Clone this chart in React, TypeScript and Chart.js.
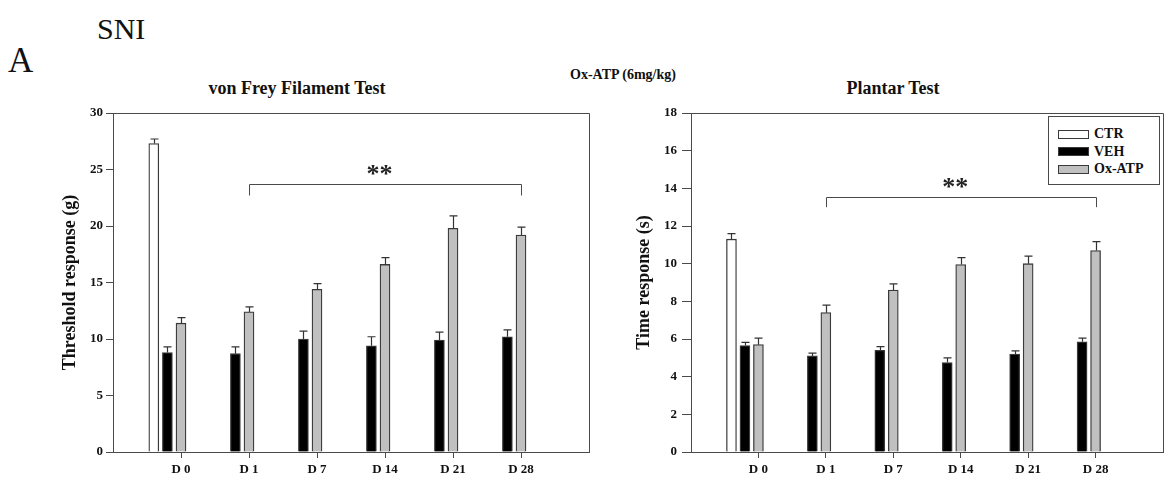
import React, { useEffect, useRef } from "react";
import { Chart, registerables } from "chart.js";
Chart.register(...registerables);

const FONT = "'Liberation Serif', 'Times New Roman', serif";

// ---------- data ----------
const categories = ["D 0", "D 1", "D 7", "D 14", "D 21", "D 28"];
const seriesNames = ["CTR", "VEH", "Ox-ATP"];

const vonFreyCTR = [27.3, null, null, null, null, null];
const vonFreyCTRErr = [0.4, null, null, null, null, null];
const vonFreyVEH = [8.8, 8.7, 10.0, 9.4, 9.9, 10.2];
const vonFreyVEHErr = [0.5, 0.6, 0.7, 0.8, 0.7, 0.6];
const vonFreyOx = [11.4, 12.4, 14.4, 16.6, 19.8, 19.2];
const vonFreyOxErr = [0.5, 0.45, 0.5, 0.6, 1.1, 0.7];

const plantarCTR = [11.3, null, null, null, null, null];
const plantarCTRErr = [0.3, null, null, null, null, null];
const plantarVEH = [5.65, 5.1, 5.4, 4.75, 5.2, 5.85];
const plantarVEHErr = [0.17, 0.15, 0.2, 0.25, 0.17, 0.2];
const plantarOx = [5.7, 7.4, 8.6, 9.95, 10.0, 10.7];
const plantarOxErr = [0.35, 0.4, 0.33, 0.37, 0.4, 0.47];

const vonFreyYTicks = { max: 30, step: 5 };
const plantarYTicks = { max: 18, step: 2 };

// significance brackets (data units)
const vonFreyBracket = { from: 1, to: 5, y: 23.7, drop: 1.0, text: "**", textX: 2.92, textY: 23.9 };
const plantarBracket = { from: 1, to: 5, y: 13.54, drop: 0.54, text: "**", textX: 2.92, textY: 13.63 };

// ---------- styles ----------
const seriesFill = ["#ffffff", "#000000", "#c0c0c0"];
const seriesOffset = [-0.4, -0.2, 0];
const LINE = "#4a4a4a";

const errorBarPlugin = {
  id: "errorBars",
  afterDatasetsDraw(chart: any) {
    const ctx = chart.ctx;
    const ys = chart.scales.y;
    ctx.save();
    ctx.strokeStyle = "#333";
    ctx.lineWidth = 1.2;
    chart.data.datasets.forEach((ds: any, i: number) => {
      const meta = chart.getDatasetMeta(i);
      meta.data.forEach((el: any, j: number) => {
        const p = ds.data[j];
        if (!p || p.err == null) return;
        const top = ys.getPixelForValue(p.y + p.err);
        const x = Math.round(el.x) + 0.5;
        ctx.beginPath();
        ctx.moveTo(x, el.y);
        ctx.lineTo(x, top);
        ctx.moveTo(x - 4, top);
        ctx.lineTo(x + 4, top);
        ctx.stroke();
      });
    });
    ctx.restore();
  },
};

const framePlugin = {
  id: "frame",
  afterDraw(chart: any) {
    const { ctx, chartArea: a } = chart;
    ctx.save();
    ctx.strokeStyle = LINE;
    ctx.lineWidth = 1;
    ctx.beginPath();
    ctx.moveTo(a.left, Math.round(a.top) + 0.5);
    ctx.lineTo(Math.round(a.right) + 0.5, Math.round(a.top) + 0.5);
    ctx.lineTo(Math.round(a.right) + 0.5, a.bottom);
    ctx.stroke();
    ctx.restore();
  },
};

const bracketPlugin = {
  id: "bracket",
  afterDraw(chart: any, _args: any, opts: any) {
    if (!opts || opts.from == null) return;
    const { ctx } = chart;
    const xs = chart.scales.x;
    const ys = chart.scales.y;
    const x1 = Math.round(xs.getPixelForValue(opts.from)) + 0.5;
    const x2 = Math.round(xs.getPixelForValue(opts.to)) + 0.5;
    const y = Math.round(ys.getPixelForValue(opts.y)) + 0.5;
    const yd = ys.getPixelForValue(opts.y - opts.drop);
    ctx.save();
    ctx.strokeStyle = LINE;
    ctx.lineWidth = 1;
    ctx.beginPath();
    ctx.moveTo(x1, yd);
    ctx.lineTo(x1, y);
    ctx.lineTo(x2, y);
    ctx.lineTo(x2, yd);
    ctx.stroke();
    ctx.fillStyle = "#222";
    ctx.font = `bold 26px ${FONT}`;
    ctx.textAlign = "center";
    ctx.textBaseline = "alphabetic";
    ctx.fillText(opts.text, xs.getPixelForValue(opts.textX), ys.getPixelForValue(opts.textY));
    ctx.restore();
  },
};

type PanelProps = {
  left: number;
  width: number;
  ctr: (number | null)[];
  ctrErr: (number | null)[];
  veh: number[];
  vehErr: number[];
  ox: number[];
  oxErr: number[];
  yMax: number;
  yStep: number;
  yTitle: string;
  yAxisWidth: number;
  yTitlePad: number;
  yTickLen: number;
  yTickPad: number;
  padRight: number;
  bracket: any;
};

function Panel(props: PanelProps) {
  const ref = useRef<HTMLCanvasElement | null>(null);
  useEffect(() => {
    if (!ref.current) return;
    const values = [props.ctr, props.veh, props.ox];
    const errs = [props.ctrErr, props.vehErr, props.oxErr];
    const datasets = values.map((vals, s) => ({
      label: seriesNames[s],
      data: vals
        .map((v, i) => (v == null ? null : { x: i + seriesOffset[s], y: v, err: errs[s][i] }))
        .filter((p) => p !== null),
      backgroundColor: seriesFill[s],
      borderColor: "#3a3a3a",
      borderWidth: 1.3,
      barThickness: 10,
      grouped: false,
    }));
    const tickFont = { family: FONT, size: 13, weight: "bold" as const };
    const chart = new Chart(ref.current, {
      type: "bar",
      data: { datasets: datasets as any },
      plugins: [errorBarPlugin, framePlugin, bracketPlugin],
      options: {
        responsive: false,
        animation: false,
        events: [],
        layout: { padding: { top: 113, right: props.padRight, bottom: 0, left: 0 } },
        plugins: {
          legend: { display: false },
          tooltip: { enabled: false },
          bracket: props.bracket,
        } as any,
        scales: {
          x: {
            type: "linear",
            min: -1,
            max: 6,
            offset: false,
            afterBuildTicks: (sc: any) => {
              sc.ticks = categories.map((_, i) => ({ value: i }));
            },
            afterFit: (sc: any) => {
              sc.height = 27;
            },
            ticks: {
              callback: (v: any) => categories[Math.round(Number(v))] ?? "",
              autoSkip: false,
              maxRotation: 0,
              padding: 4,
              color: "#111",
              font: tickFont,
            },
            grid: { offset: false, drawOnChartArea: false, drawTicks: true, tickLength: 6, tickColor: LINE, color: LINE },
            border: { display: true, color: LINE, width: 1 },
          },
          y: {
            type: "linear",
            min: 0,
            max: props.yMax,
            afterFit: (sc: any) => {
              sc.width = props.yAxisWidth;
            },
            ticks: { stepSize: props.yStep, padding: props.yTickPad, color: "#111", font: tickFont },
            grid: { offset: false, drawOnChartArea: false, drawTicks: true, tickLength: props.yTickLen, tickColor: LINE, color: LINE },
            border: { display: true, color: LINE, width: 1 },
            title: {
              display: true,
              text: props.yTitle,
              color: "#111",
              font: { family: FONT, size: 18, weight: "bold" },
              padding: { top: props.yTitlePad, bottom: 0 },
            },
          },
        } as any,
      },
    });
    return () => chart.destroy();
  }, []);
  return (
    <canvas
      ref={ref}
      width={props.width}
      height={479}
      style={{ position: "absolute", left: props.left, top: 0, width: props.width, height: 479 }}
    />
  );
}

function Text(p: { text: string; left: number; top: number; size: number; bold?: boolean; width?: number; center?: boolean }) {
  return (
    <div
      style={{
        position: "absolute",
        left: p.left,
        top: p.top,
        width: p.width,
        textAlign: p.center ? "center" : "left",
        fontFamily: FONT,
        fontSize: p.size,
        lineHeight: `${p.size}px`,
        fontWeight: p.bold ? "bold" : "normal",
        color: "#111",
        whiteSpace: "nowrap",
      }}
    >
      {p.text}
    </div>
  );
}

export default function App() {
  return (
    <div style={{ position: "absolute", left: 0, top: 0, width: 1170, height: 479, background: "#fff", overflow: "hidden" }}>
      <Text text="SNI" left={97} top={14} size={30} />
      <Text text="A" left={8} top={43} size={35} />
      <Text text="von Frey Filament Test" left={147} width={300} top={79} size={18} bold center />
      <Text text="Ox-ATP (6mg/kg)" left={523} width={200} top={68} size={14} bold center />
      <Text text="Plantar Test" left={743} width={300} top={79} size={18} bold center />
      <Panel
        left={0}
        width={600}
        ctr={vonFreyCTR}
        ctrErr={vonFreyCTRErr}
        veh={vonFreyVEH}
        vehErr={vonFreyVEHErr}
        ox={vonFreyOx}
        oxErr={vonFreyOxErr}
        yMax={vonFreyYTicks.max}
        yStep={vonFreyYTicks.step}
        yTitle="Threshold response (g)"
        yAxisWidth={113}
        yTitlePad={60}
        yTickLen={7}
        yTickPad={3}
        padRight={11}
        bracket={vonFreyBracket}
      />
      <Panel
        left={600}
        width={570}
        ctr={plantarCTR}
        ctrErr={plantarCTRErr}
        veh={plantarVEH}
        vehErr={plantarVEHErr}
        ox={plantarOx}
        oxErr={plantarOxErr}
        yMax={plantarYTicks.max}
        yStep={plantarYTicks.step}
        yTitle="Time response (s)"
        yAxisWidth={91}
        yTitlePad={34}
        yTickLen={9}
        yTickPad={5}
        padRight={7}
        bracket={plantarBracket}
      />
      <div
        style={{
          position: "absolute",
          left: 1048,
          top: 116,
          width: 110,
          height: 67,
          border: `1px solid ${LINE}`,
          background: "#fff",
        }}
      >
        {seriesNames.map((name, i) => (
          <div key={name} style={{ position: "absolute", left: 9, top: 12 + i * 17.5, height: 10, display: "flex", alignItems: "center" }}>
            <div style={{ width: 29, height: 7, background: seriesFill[i], border: "1px solid #3a3a3a" }} />
            <span style={{ marginLeft: 5, fontFamily: FONT, fontWeight: "bold", fontSize: 14, color: "#111", whiteSpace: "nowrap" }}>
              {name}
            </span>
          </div>
        ))}
      </div>
    </div>
  );
}
